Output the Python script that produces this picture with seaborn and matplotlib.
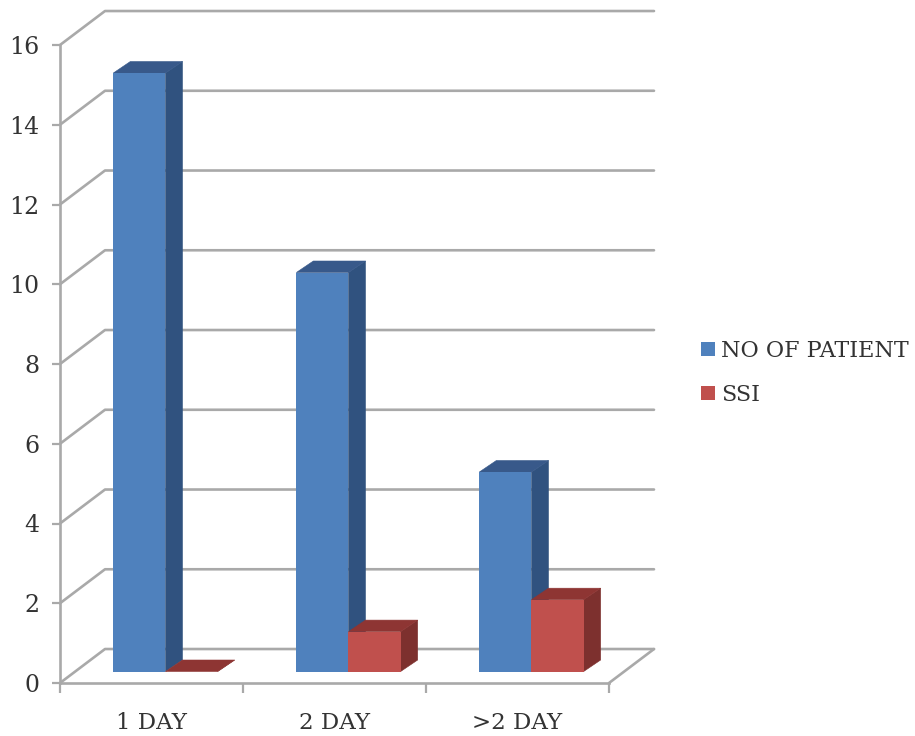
import matplotlib
matplotlib.use("Agg")
import matplotlib.pyplot as plt
from matplotlib.patches import Patch, Polygon
import pandas as pd
import seaborn as sns

days = ["1 DAY", "2 DAY", ">2 DAY"]
patients = [15, 10, 5]
ssi = [0, 1, 1.8]
series_names = ["NO OF PATIENT", "SSI"]
y_ticks = list(range(0, 17, 2))

front_colors = ["#4F81BD", "#C0504D"]
side_colors = ["#30527F", "#7D302E"]
top_colors = ["#38598A", "#8E3533"]
line_color = "#A9A9A9"
text_color = "#333333"

W, H = 915, 736
sns.set_theme(style="white")
plt.rcParams["font.family"] = ["DejaVu Serif", "DejaVu Sans"]

fig = plt.figure(figsize=(W / 100, H / 100), dpi=100, facecolor="white")


def box(left, right, bottom, top):
    """Axes rectangle from pixel edges, y counted from the top of the figure."""
    return [left / W, 1 - bottom / H, (right - left) / W, (bottom - top) / H]


# Front plane of the chart: the value axis, category axis and wall lines.
frame = fig.add_axes(box(60, 609, 683, 45))
frame.set_xlim(-0.5, 2.5)
frame.set_ylim(0, 16)
unit_x = 183.0
unit_y = 39.9
wall_dx, wall_dy = 45 / unit_x, 34 / unit_y

for value in y_ticks:
    frame.plot([-0.5, -0.5 + wall_dx, 2.5 + wall_dx],
               [value, value + wall_dy, value + wall_dy],
               color=line_color, lw=1.9, clip_on=False, zorder=1)
frame.plot([2.5, 2.5 + wall_dx], [0, wall_dy], color=line_color, lw=1.9,
           clip_on=False, zorder=1)

for side in ("top", "right"):
    frame.spines[side].set_visible(False)
for side in ("left", "bottom"):
    frame.spines[side].set_color(line_color)
    frame.spines[side].set_linewidth(1.9)

frame.set_yticks(y_ticks)
frame.tick_params(axis="y", length=6, width=1.6, color=line_color, pad=9,
                  labelsize=17, labelcolor=text_color, left=True)
frame.set_xticks([-0.5, 0.5, 1.5, 2.5])
frame.set_xticklabels([])
frame.tick_params(axis="x", which="major", length=7, width=1.6,
                  color=line_color, bottom=True)
frame.set_xticks([0, 1, 2], minor=True)
frame.set_xticklabels(days, minor=True)
frame.tick_params(axis="x", which="minor", length=0, pad=21, labelsize=16.5,
                  labelcolor=text_color)

# Bars stand slightly inside the floor, on their own transparent axes.
bars_ax = fig.add_axes(box(74, 623, 671.5, 33.1))
bars_ax.patch.set_alpha(0)
table = pd.DataFrame({
    "day": days * 2,
    "count": patients + ssi,
    "series": [series_names[0]] * len(days) + [series_names[1]] * len(days),
})
sns.barplot(data=table, x="day", y="count", hue="series", order=days,
            hue_order=series_names, palette=front_colors, saturation=1,
            width=0.57, gap=0, legend=False, ax=bars_ax)
bars_ax.set_xlim(-0.5, 2.5)
bars_ax.set_ylim(0, 16)
bars_ax.axis("off")

# Extrude each bar with a side face and a top face.
bar_dx, bar_dy = 17 / unit_x, 11.5 / unit_y
for n, bar in enumerate(bars_ax.patches[:2 * len(days)]):
    series = n // len(days)
    z = 2 + series
    x0, x1 = bar.get_x(), bar.get_x() + bar.get_width()
    h = bar.get_height()
    bar.set_zorder(z + 0.2)
    bar.set_edgecolor("none")
    bar.set_linewidth(0)
    bars_ax.add_patch(Polygon(
        [(x1, 0), (x1 + bar_dx, bar_dy), (x1 + bar_dx, h + bar_dy), (x1, h)],
        closed=True, facecolor=side_colors[series],
        edgecolor=side_colors[series], linewidth=0.4,
        clip_on=False, zorder=z))
    bars_ax.add_patch(Polygon(
        [(x0, h), (x0 + bar_dx, h + bar_dy), (x1 + bar_dx, h + bar_dy), (x1, h)],
        closed=True, facecolor=top_colors[series],
        edgecolor=top_colors[series], linewidth=0.4,
        clip_on=False, zorder=z + 0.1))

handles = [Patch(facecolor=c, edgecolor="none") for c in front_colors]
legend = fig.legend(handles, series_names, loc="center left",
                    bbox_to_anchor=(701 / W, 1 - 373 / H), frameon=False,
                    fontsize=16, labelcolor=text_color, handlelength=0.62,
                    handleheight=0.62, handletextpad=0.3, labelspacing=0.98,
                    borderpad=0, borderaxespad=0)

fig.savefig("out.png", dpi=100, facecolor="white")
